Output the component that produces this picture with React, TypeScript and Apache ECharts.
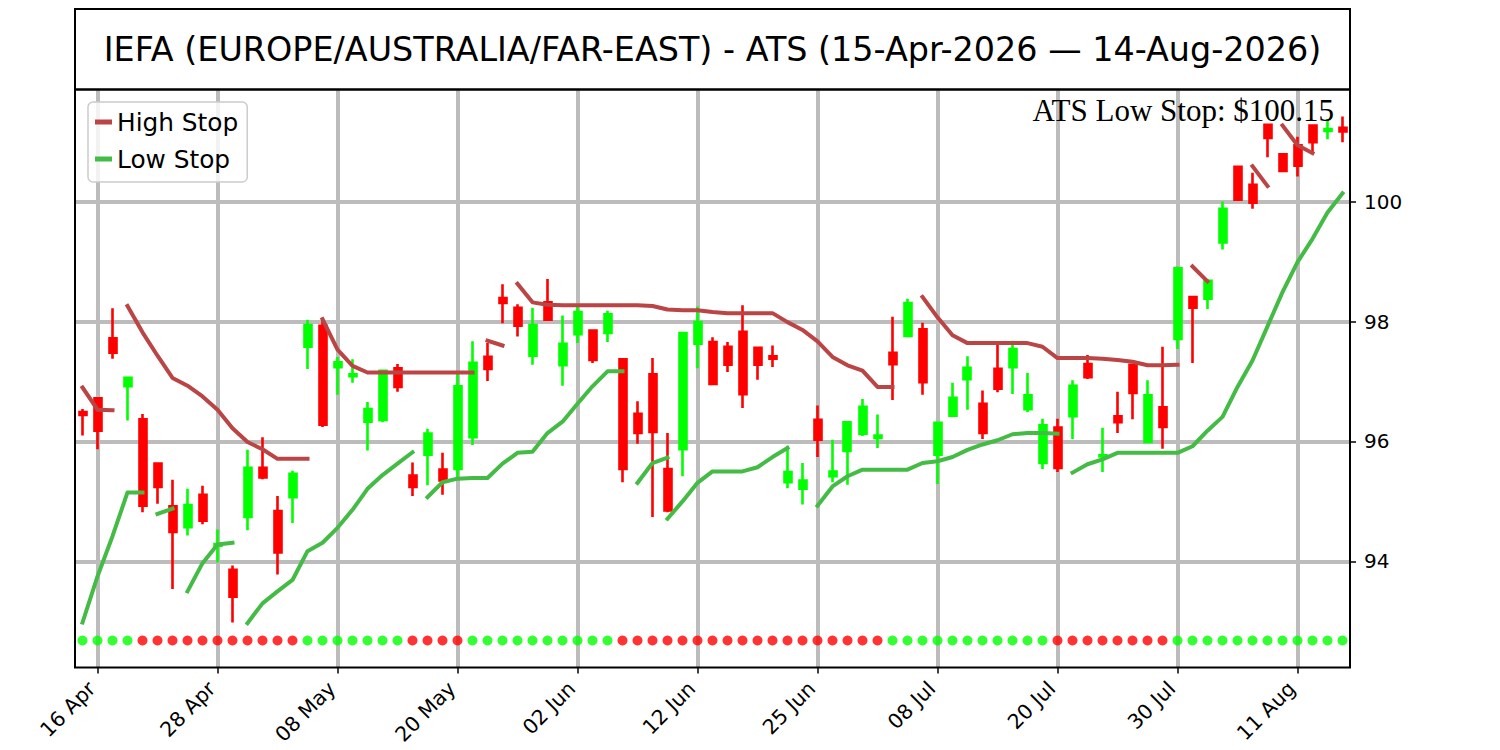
import React, { useEffect, useRef } from "react";
import * as echarts from "echarts";

// ---------- data ----------
const tradingDays = [
  "2026-04-15", "2026-04-16", "2026-04-17", "2026-04-20", "2026-04-21", "2026-04-22", "2026-04-23", "2026-04-24", "2026-04-27", "2026-04-28", "2026-04-29", "2026-04-30",
  "2026-05-01", "2026-05-04", "2026-05-05", "2026-05-06", "2026-05-07", "2026-05-08", "2026-05-11", "2026-05-12", "2026-05-13", "2026-05-14", "2026-05-15", "2026-05-18", "2026-05-19", "2026-05-20", "2026-05-21", "2026-05-22", "2026-05-26", "2026-05-27", "2026-05-28", "2026-05-29",
  "2026-06-01", "2026-06-02", "2026-06-03", "2026-06-04", "2026-06-05", "2026-06-08", "2026-06-09", "2026-06-10", "2026-06-11", "2026-06-12", "2026-06-15", "2026-06-16", "2026-06-17", "2026-06-18", "2026-06-22", "2026-06-23", "2026-06-24", "2026-06-25", "2026-06-26", "2026-06-29", "2026-06-30",
  "2026-07-01", "2026-07-02", "2026-07-06", "2026-07-07", "2026-07-08", "2026-07-09", "2026-07-10", "2026-07-13", "2026-07-14", "2026-07-15", "2026-07-16", "2026-07-17", "2026-07-20", "2026-07-21", "2026-07-22", "2026-07-23", "2026-07-24", "2026-07-27", "2026-07-28", "2026-07-29", "2026-07-30", "2026-07-31",
  "2026-08-03", "2026-08-04", "2026-08-05", "2026-08-06", "2026-08-07", "2026-08-10", "2026-08-11", "2026-08-12", "2026-08-13", "2026-08-14",
];

const tickLabels = ["16 Apr", "28 Apr", "08 May", "20 May", "02 Jun", "12 Jun", "25 Jun", "08 Jul", "20 Jul", "30 Jul", "11 Aug"];
const yTicks = [94, 96, 98, 100];

const opens = [
  96.49, 96.72, 97.72, 96.92, 96.37, 95.63, 94.92, 94.57, 95.11, 94.26,
  93.86, 94.74, 95.56, 94.84, 95.07, 97.58, 97.93, 97.24, 97.09, 96.33,
  96.36, 97.22, 95.43, 95.78, 95.53, 95.54, 96.07, 97.41, 98.39, 98.23,
  97.43, 98.32, 97.27, 97.79, 97.85, 97.81, 97.37, 96.46, 97.12, 95.54,
  95.87, 97.63, 97.66, 97.58, 97.83, 97.56, 97.42, 95.32, 95.21, 96.36,
  95.42, 95.84, 96.13, 96.06, 97.48, 97.76, 97.87, 95.78, 96.43, 97.04,
  96.63, 97.21, 97.24, 96.54, 95.64, 96.23, 96.42, 97.29, 95.75, 96.42,
  97.28, 95.99, 96.57, 97.71, 98.41, 98.38, 99.32, 100.58, 100.28, 101.28,
  100.79, 100.94, 101.27, 101.18, 101.23,
];
const closes = [
  96.44, 96.18, 97.48, 97.06, 94.93, 95.24, 94.49, 94.94, 94.68, 94.29,
  93.41, 95.56, 95.40, 94.15, 95.46, 97.94, 96.28, 97.32, 97.12, 96.54,
  97.18, 96.91, 95.24, 96.13, 95.35, 96.92, 97.31, 97.21, 98.31, 97.93,
  97.94, 98.03, 97.63, 98.16, 97.36, 98.12, 95.54, 96.14, 96.16, 94.85,
  97.81, 97.99, 96.96, 97.28, 96.79, 97.28, 97.38, 95.49, 95.35, 96.03,
  95.50, 96.32, 96.58, 96.10, 97.29, 98.31, 96.99, 96.31, 96.73, 97.23,
  96.14, 96.88, 97.54, 96.77, 96.27, 95.56, 96.93, 97.07, 95.77, 96.32,
  96.81, 96.77, 96.24, 98.89, 98.23, 98.68, 99.88, 100.03, 99.98, 101.06,
  100.51, 100.60, 100.99, 101.21, 101.17,
];
const lows = [
  96.10, 95.87, 97.38, 96.35, 94.82, 94.96, 93.54, 94.43, 94.62, 93.98,
  92.98, 94.52, 95.37, 93.78, 94.64, 97.21, 96.24, 96.78, 96.98, 95.85,
  96.32, 96.83, 95.09, 95.27, 95.11, 95.35, 95.94, 97.01, 97.97, 97.75,
  97.28, 98.01, 96.93, 97.64, 97.31, 97.66, 95.32, 95.96, 94.74, 94.82,
  95.42, 97.22, 96.95, 97.16, 96.56, 97.03, 97.24, 95.22, 94.95, 95.74,
  95.32, 95.28, 96.09, 95.89, 96.69, 97.75, 96.78, 95.29, 96.42, 96.53,
  96.04, 96.82, 96.79, 96.49, 95.54, 95.49, 96.04, 97.04, 95.49, 96.14,
  96.37, 95.99, 95.88, 97.54, 97.31, 98.21, 99.20, 100.03, 99.88, 100.74,
  100.51, 100.42, 100.79, 101.04, 100.99,
];
const highs = [
  96.54, 96.74, 98.22, 97.06, 96.46, 95.63, 95.36, 95.21, 95.26, 94.53,
  93.93, 95.86, 96.07, 95.09, 95.51, 98.03, 98.02, 97.41, 97.37, 96.66,
  97.19, 97.29, 95.65, 96.21, 95.81, 97.13, 97.67, 97.64, 98.62, 98.29,
  98.23, 98.71, 98.10, 98.27, 97.86, 98.18, 97.38, 96.67, 97.39, 96.14,
  97.83, 98.25, 97.74, 97.66, 98.27, 97.57, 97.60, 95.93, 95.64, 96.60,
  96.03, 96.33, 96.71, 96.45, 98.08, 98.38, 97.98, 96.32, 96.98, 97.42,
  96.85, 97.63, 97.68, 97.14, 96.38, 96.38, 97.02, 97.44, 96.23, 96.83,
  97.29, 97.02, 97.58, 98.92, 98.43, 98.71, 100.00, 100.58, 100.48, 101.28,
  100.81, 101.08, 101.28, 101.37, 101.42,
];

// trend state per day: 1 = up (green dot), -1 = down (red dot)
const trend = [
  1, 1, 1, 1, -1, -1, -1, -1, -1, -1,
  -1, -1, -1, -1, -1, 1, 1, 1, 1, 1,
  1, 1, -1, -1, -1, -1, 1, 1, 1, 1,
  1, 1, 1, 1, 1, 1, -1, -1, -1, -1,
  -1, -1, -1, -1, -1, -1, -1, -1, -1, -1,
  -1, -1, -1, -1, 1, 1, 1, 1, 1, 1,
  1, 1, 1, 1, 1, -1, -1, -1, -1, -1,
  -1, -1, -1, 1, 1, 1, 1, 1, 1, 1,
  1, 1, 1, 1, 1,
];
const signalLevel = 92.68;

// stop-line segments: [start day index, values]
const highStopSegments: [number, number[]][] = [
  [0, [96.9, 96.53, 96.52]],
  [3, [98.26, 97.82, 97.43, 97.06, 96.93, 96.75, 96.53, 96.22, 95.99, 95.87, 95.71, 95.71, 95.71]],
  [16, [98.04, 97.53, 97.26, 97.15, 97.15, 97.15, 97.15, 97.15, 97.15, 97.15, 97.15]],
  [27, [97.68, 97.6]],
  [29, [98.63, 98.32, 98.28, 98.27, 98.27, 98.27, 98.27, 98.27, 98.27, 98.26, 98.2, 98.19, 98.19, 98.16, 98.14, 98.14, 98.14, 98.14, 97.99, 97.86, 97.67, 97.41, 97.27, 97.18, 96.91, 96.91]],
  [56, [98.41, 98.07, 97.77, 97.64, 97.64, 97.64, 97.64, 97.64, 97.58, 97.39, 97.39, 97.39, 97.38, 97.36, 97.33, 97.27, 97.27, 97.28]],
  [74, [98.92, 98.67]],
  [78, [100.59, 100.26]],
  [80, [101.27, 100.94, 100.81]],
];
const lowStopSegments: [number, number[]][] = [
  [0, [92.98, 93.75, 94.42, 95.15, 95.15]],
  [5, [94.79, 94.88]],
  [7, [93.5, 93.97, 94.28, 94.31]],
  [11, [92.97, 93.3, 93.5, 93.69, 94.17, 94.31, 94.56, 94.86, 95.21, 95.44, 95.63, 95.82]],
  [23, [95.07, 95.32, 95.38, 95.39, 95.39, 95.63, 95.81, 95.83, 96.14, 96.33, 96.63, 96.92, 97.17, 97.17]],
  [37, [95.31, 95.64, 95.73]],
  [39, [94.71, 95.0, 95.31, 95.5, 95.5, 95.5, 95.57, 95.74, 95.89]],
  [49, [94.93, 95.25, 95.42, 95.53, 95.53, 95.53, 95.53, 95.64, 95.67, 95.74, 95.86, 95.95, 96.02, 96.12, 96.14, 96.14, 96.13]],
  [66, [95.48, 95.62, 95.7, 95.81, 95.81, 95.81, 95.81, 95.81, 95.92, 96.18, 96.41, 96.91, 97.35, 97.92, 98.49, 98.99, 99.38, 99.82, 100.14]],
];

const lowStopLatest = "100.15";
const titleText = "IEFA (EUROPE/AUSTRALIA/FAR-EAST) - ATS (15-Apr-2026 \u2014 14-Aug-2026)";

// ---------- helpers ----------
const MONTHS = ["Jan", "Feb", "Mar", "Apr", "May", "Jun", "Jul", "Aug", "Sep", "Oct", "Nov", "Dec"];
const fmtDay = (d: string) => {
  const [, m, dd] = d.split("-");
  return `${dd} ${MONTHS[Number(m) - 1]}`;
};

// Split segments over two alternating series so adjacent segments stay disconnected
function splitSegments(segs: [number, number[]][], n: number) {
  const a: (number | null)[] = new Array(n).fill(null);
  const b: (number | null)[] = new Array(n).fill(null);
  segs.forEach(([start, vals], k) => {
    const target = k % 2 === 0 ? a : b;
    vals.forEach((v, j) => {
      target[start + j] = v;
    });
  });
  return [a, b];
}

const HIGH_COLOR = "#bb4444";
const LOW_COLOR = "#44bb44";
const UP = "#00ff00";
const DOWN = "#ff0000";
const SANS = "DejaVu Sans";

export default function App() {
  const ref = useRef<HTMLDivElement>(null);

  useEffect(() => {
    document.body.style.margin = "0";
    if (!ref.current) return;
    const chart = echarts.init(ref.current, undefined, { renderer: "svg" });
    const n = tradingDays.length;
    const cats = tradingDays.map(fmtDay);
    const isTick = (_i: number, v: string) => tickLabels.includes(v);

    const [highA, highB] = splitSegments(highStopSegments, n);
    const [lowA, lowB] = splitSegments(lowStopSegments, n);

    const candleData = opens.map((o, i) => [o, closes[i], lows[i], highs[i]]);

    const lineSeries = (name: string, data: (number | null)[], color: string) => ({
      name,
      type: "line",
      data,
      showSymbol: false,
      symbol: "none",
      connectNulls: false,
      color,
      itemStyle: { color },
      lineStyle: { color, width: 4, cap: "square", join: "round" },
      z: 3,
      silent: true,
    });

    const option: any = {
      animation: false,
      backgroundColor: "#ffffff",
      title: {
        text: titleText,
        left: 712.5,
        top: 49,
        padding: 0,
        textAlign: "center",
        textVerticalAlign: "middle",
        textStyle: { fontFamily: SANS, fontSize: 33.4, fontWeight: "normal", color: "#000" },
      },
      legend: {
        data: ["High Stop", "Low Stop"],
        orient: "vertical",
        left: 88,
        top: 102,
        padding: [6, 9, 9, 7],
        itemWidth: 17,
        itemHeight: 5,
        itemGap: 9,
        icon: "rect",
        borderColor: "#cccccc",
        borderWidth: 1.5,
        borderRadius: 5,
        backgroundColor: "rgba(255,255,255,0.8)",
        textStyle: { fontFamily: SANS, fontSize: 24.8, color: "#000", lineHeight: 28 },
        selectedMode: false,
      },
      grid: {
        left: 75,
        right: 150,
        top: 89.5,
        bottom: 82.5,
        show: true,
        z: 1,
        borderColor: "#000",
        borderWidth: 2,
        backgroundColor: "transparent",
      },
      xAxis: {
        type: "category",
        data: cats,
        boundaryGap: true,
        axisLine: { show: false },
        axisTick: {
          show: true,
          alignWithLabel: true,
          interval: isTick,
          length: 6,
          lineStyle: { color: "#000", width: 1.5 },
        },
        axisLabel: {
          interval: isTick,
          rotate: 45,
          margin: 12,
          padding: [0, 8, 0, 0],
          fontFamily: SANS,
          fontSize: 20.5,
          color: "#000",
        },
        splitLine: { show: false },
      },
      yAxis: {
        type: "value",
        position: "right",
        min: 92.23,
        max: 101.87,
        scale: true,
        axisLine: { show: false },
        splitLine: { show: false },
        axisTick: {
          show: true,
          length: 6,
          customValues: yTicks,
          lineStyle: { color: "#000", width: 1.5 },
        },
        axisLabel: {
          customValues: yTicks,
          margin: 14,
          fontFamily: SANS,
          fontSize: 20,
          color: "#000",
        },
      },
      graphic: [
        {
          type: "rect",
          shape: { x: 75, y: 9, width: 1275, height: 80.5 },
          style: { fill: "none", stroke: "#000", lineWidth: 2 },
          z: 10,
        },
        {
          type: "text",
          x: 1334,
          y: 110,
          style: {
            text: `ATS Low Stop: $${lowStopLatest}`,
            font: '31px "Liberation Serif"',
            fill: "#000",
            textAlign: "right",
            textVerticalAlign: "middle",
          },
          z: 10,
        },
      ],
      series: [
        {
          name: "_grid",
          type: "line",
          data: [],
          z: 0,
          silent: true,
          markLine: {
            silent: true,
            symbol: "none",
            z: 0,
            animation: false,
            label: { show: false },
            lineStyle: { color: "#bcbcbc", width: 4, type: "solid", opacity: 1 },
            emphasis: { disabled: true },
            data: [
              ...yTicks.map((v) => ({ yAxis: v })),
              ...tickLabels.map((c) => ({ xAxis: c })),
            ],
          },
        },
        {
          name: "IEFA",
          type: "candlestick",
          data: candleData,
          barWidth: 7.5,
          z: 2,
          silent: true,
          itemStyle: {
            color: UP,
            color0: DOWN,
            borderColor: UP,
            borderColor0: DOWN,
            borderWidth: 2.6,
          },
        },
        lineSeries("High Stop", highA, HIGH_COLOR),
        lineSeries("High Stop", highB, HIGH_COLOR),
        lineSeries("Low Stop", lowA, LOW_COLOR),
        lineSeries("Low Stop", lowB, LOW_COLOR),
        {
          name: "Signal",
          type: "scatter",
          symbol: "circle",
          symbolSize: 10,
          z: 4,
          silent: true,
          data: trend.map((t, i) => ({
            value: [i, signalLevel],
            itemStyle: { color: t > 0 ? UP : DOWN },
          })),
        },
      ],
    };

    chart.setOption(option);
    return () => chart.dispose();
  }, []);

  return (
    <div
      ref={ref}
      style={{ position: "fixed", left: 0, top: 0, width: 1500, height: 750, background: "#fff" }}
    />
  );
}
